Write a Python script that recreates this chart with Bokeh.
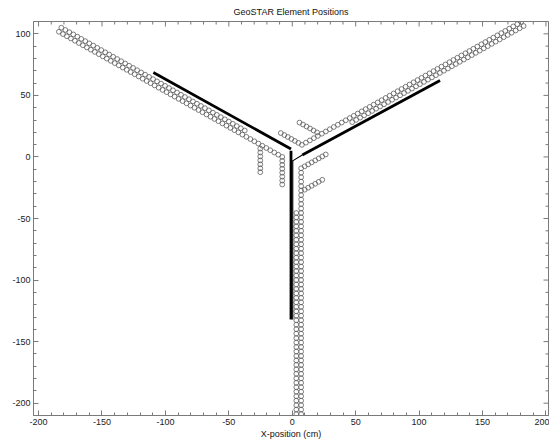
import numpy as np
from bokeh.plotting import figure
from bokeh.models import Range1d, FixedTicker
from bokeh.embed import file_html
from bokeh.resources import INLINE

title_text = "GeoSTAR Element Positions"
x_label = "X-position (cm)"
x_major_ticks = [-200, -150, -100, -50, 0, 50, 100, 150, 200]
y_major_ticks = [-200, -150, -100, -50, 0, 50, 100]
x_minor_ticks = [v for v in range(-200, 201, 10) if v % 50 != 0]
y_minor_ticks = [v for v in range(-210, 111, 10) if v % 50 != 0]
X_MIN, X_MAX = -204, 202
Y_MIN, Y_MAX = -210, 110

# Dense (filled) element strips: start -> end
strip_x0 = [-1.0, -1.0, 7.9]
strip_y0 = [6.5, 5.0, 1.6]
strip_x1 = [-109.5, -1.0, 116.5]
strip_y1 = [68.5, -132.0, 62.0]
# thin links at the hub
link_x0 = [-1.0, 0.4]
link_y0 = [-4.0, -3.0]
link_x1 = [7.9, 0.4]
link_y1 = [1.6, -132.0]

# Open-circle arms (outer row A and inner row B)
arm_dir_deg = [150, 270, 30]
arm_a_x0 = [-7.9, 7.0, 7.6]
arm_a_y0 = [0.0, -9.2, 9.8]
arm_n = [57, 58, 56]
arm_pitch = [3.63, 3.63, 3.63]
arm_b_dx = [1.9, -3.8, 1.9]
arm_b_dy = [3.3, 0.0, -3.3]
arm_b_first = [10, 10, 12]

# Short circle stubs attached to the arms
stub_arm = [0, 0, 2, 2, 1, 1]
stub_attach_s = [0.0, 20.0, 0.0, 17.0, 0.0, 19.0]
stub_dir_deg = [270, 270, 150, 150, 30, 30]
stub_n = [7, 7, 6, 6, 7, 6]
stub_pitch = 3.2

cx, cy = [], []
for i in range(3):
    a = np.deg2rad(arm_dir_deg[i])
    ux, uy = np.cos(a), np.sin(a)
    for k in range(arm_n[i]):
        s = k * arm_pitch[i]
        cx.append(arm_a_x0[i] + s * ux)
        cy.append(arm_a_y0[i] + s * uy)
        if k >= arm_b_first[i]:
            cx.append(arm_a_x0[i] + arm_b_dx[i] + s * ux)
            cy.append(arm_a_y0[i] + arm_b_dy[i] + s * uy)
for j in range(len(stub_arm)):
    i = stub_arm[j]
    a = np.deg2rad(arm_dir_deg[i])
    bx = arm_a_x0[i] + stub_attach_s[j] * np.cos(a)
    by = arm_a_y0[i] + stub_attach_s[j] * np.sin(a)
    d = np.deg2rad(stub_dir_deg[j])
    for k in range(1, stub_n[j] + 1):
        cx.append(bx + k * stub_pitch * np.cos(d))
        cy.append(by + k * stub_pitch * np.sin(d))

FONT = "Liberation Sans"
AX = "#7a7a7a"
p = figure(width=549, height=441, output_backend="svg", toolbar_location=None,
           x_range=Range1d(X_MIN, X_MAX), y_range=Range1d(Y_MIN, Y_MAX),
           min_border_left=33, min_border_right=1, min_border_top=0, min_border_bottom=0)
p.title.text = title_text
p.title.align = "center"
p.title.text_font = FONT
p.title.text_font_size = "9px"
p.title.text_font_style = "normal"
p.title.text_color = "#111111"
p.title.standoff = 9
p.title.offset = 0
p.xgrid.visible = False
p.ygrid.visible = False
p.outline_line_color = AX
p.background_fill_color = "white"
p.border_fill_color = "white"

for ax, majors, minors in ((p.xaxis[0], x_major_ticks, x_minor_ticks),
                           (p.yaxis[0], y_major_ticks, y_minor_ticks)):
    ax.ticker = FixedTicker(ticks=majors, minor_ticks=minors)
    ax.major_label_overrides = {t: str(t) for t in majors}
    ax.axis_line_color = AX
    ax.major_tick_line_color = AX
    ax.minor_tick_line_color = AX
    ax.major_tick_in = 5
    ax.major_tick_out = 0
    ax.minor_tick_in = 3
    ax.minor_tick_out = 0
    ax.major_label_text_font = FONT
    ax.major_label_text_font_size = "9px"
    ax.major_label_text_color = "#222222"
    ax.major_label_standoff = 3

p.xaxis[0].axis_label = x_label
p.xaxis[0].axis_label_text_font = FONT
p.xaxis[0].axis_label_text_font_size = "9px"
p.xaxis[0].axis_label_text_font_style = "normal"
p.xaxis[0].axis_label_text_color = "#111111"
p.xaxis[0].axis_label_standoff = 1

# inward tick marks on the top and right edges (half of each dash is clipped by the frame)
p.scatter(x_major_ticks, [Y_MAX] * len(x_major_ticks), marker="dash", angle=np.pi / 2,
          size=10, line_color=AX, line_width=1)
p.scatter(x_minor_ticks, [Y_MAX] * len(x_minor_ticks), marker="dash", angle=np.pi / 2,
          size=6, line_color=AX, line_width=1)
p.scatter([X_MAX] * len(y_major_ticks), y_major_ticks, marker="dash",
          size=10, line_color=AX, line_width=1)
p.scatter([X_MAX] * len(y_minor_ticks), y_minor_ticks, marker="dash",
          size=6, line_color=AX, line_width=1)

p.scatter(cx, cy, marker="circle", size=4.8, fill_color=None,
          line_color="#5c5c5c", line_width=0.8)
p.segment(strip_x0, strip_y0, strip_x1, strip_y1, line_color="black", line_width=2.8)
p.segment(link_x0, link_y0, link_x1, link_y1, line_color="black", line_width=1.1)

open("out.html", "w").write(file_html(p, INLINE))
